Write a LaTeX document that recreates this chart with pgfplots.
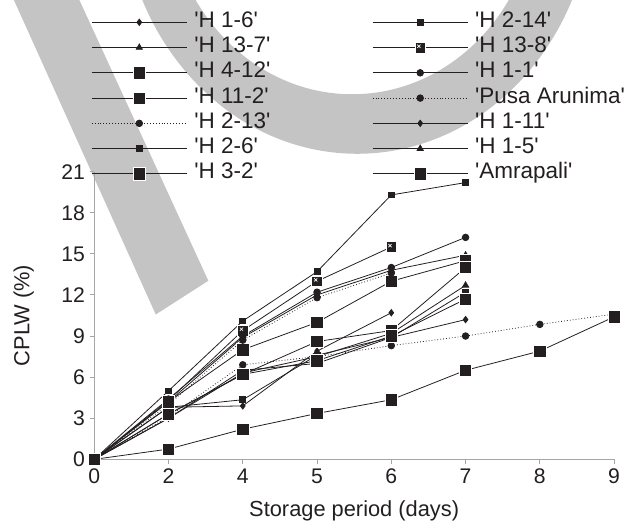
\documentclass[border=0pt]{standalone}
\usepackage{fontspec}
\setmainfont{Liberation Sans}[Ligatures=TeXOff]
\usepackage{pgfplots}
\pgfplotsset{compat=1.18}

\definecolor{band}{HTML}{C4C4C4}
\definecolor{ink}{HTML}{231F20}
\definecolor{axgray}{HTML}{A6A6A6}

% black square with a small white cross
\pgfdeclareplotmark{sqx}{%
  \pgfpathrectangle{\pgfpoint{-\pgfplotmarksize}{-\pgfplotmarksize}}{\pgfpoint{2\pgfplotmarksize}{2\pgfplotmarksize}}%
  \pgfusepathqfillstroke
  \pgfsetstrokecolor{white}%
  \pgfsetlinewidth{0.5pt}%
  \pgfpathmoveto{\pgfpoint{-0.55\pgfplotmarksize}{-0.05\pgfplotmarksize}}%
  \pgfpathlineto{\pgfpoint{0.05\pgfplotmarksize}{0.55\pgfplotmarksize}}%
  \pgfpathmoveto{\pgfpoint{-0.55\pgfplotmarksize}{0.55\pgfplotmarksize}}%
  \pgfpathlineto{\pgfpoint{0.05\pgfplotmarksize}{-0.05\pgfplotmarksize}}%
  \pgfusepathqstroke
}

\pgfplotsset{
  ser/.style={ink, line width=0.6pt},
  dots/.style={dash pattern=on 0.6pt off 1.6pt},
  bigsq/.style={mark=square*, mark size=4.7pt, mark options={solid, fill=ink, draw=white, line width=0.5pt}},
  xsq/.style={mark=sqx, mark size=4pt, mark options={solid, fill=ink, draw=white, line width=0.5pt}},
  smsq/.style={mark=square*, mark size=2.2pt, mark options={solid, fill=ink, draw=ink}},
  circ/.style={mark=*, mark size=2.5pt, mark options={solid, fill=ink, draw=ink}},
  tri/.style={mark=triangle*, mark size=2.7pt, mark options={solid, fill=ink, draw=ink}},
  dia/.style={mark=diamond*, mark size=2.4pt, mark options={solid, fill=ink, draw=ink}},
}

\begin{document}
\begin{tikzpicture}
\begin{scope}[x=0.75pt,y=-0.75pt]
  \useasboundingbox (0,0) rectangle (625,529);
  \begin{scope}
    \clip (0,0) rectangle (625,529);
    \fill[band] (14,0) -- (80,0) -- (210,283) -- (157,317) -- cycle;
    \fill[band,even odd rule] (360,-110) ellipse [x radius=238, y radius=265]
                              (355,-110) ellipse [x radius=187, y radius=205];
  \end{scope}
\end{scope}
\begin{axis}[
  at={(71.25pt,-347.25pt)}, anchor=south west,
  scale only axis, width=393pt, height=217.5pt,
  xmin=0, xmax=7, ymin=0, ymax=21,
  clip=false,
  axis lines=left,
  axis line style={axgray, line width=1pt, -},
  tick style={axgray, line width=0.8pt},
  tick align=outside,
  major tick length=3.5pt,
  xtick={0,...,7},
  xticklabels={0,2,4,5,6,7,8,9},
  ytick={0,3,...,21},
  /pgf/number format/assume math mode=true,
  tick label style={font=\fontsize{16}{19}\selectfont, text=ink},
  xlabel={Storage period (days)},
  ylabel={CPLW (\%)},
  label style={font=\fontsize{16.5}{19}\selectfont, text=ink},
  xlabel style={at={(axis description cs:0.5,-0.197)}, anchor=base},
  ylabel style={at={(axis description cs:-0.125,0.5)}, anchor=base},
  legend columns=2,
  legend cell align=left,
  legend image code/.code={\draw[mark repeat=2,mark phase=2,#1] plot coordinates {(0pt,0pt) (36pt,0pt) (72pt,0pt)};},
  legend style={
    at={(axis description cs:-0.0057,1.5524)}, anchor=north west,
    draw=none, fill=none, inner sep=0pt, outer sep=0pt,
    font=\fontsize{17}{20}\selectfont, text=ink,
    row sep=4.6pt,
    nodes={inner sep=0pt, text height=11pt, text depth=3.5pt},
    /tikz/every odd column/.append style={column sep=5.25pt},
    /tikz/every even column/.append style={column sep=77pt},
  },
]
\addplot[ser, dia] coordinates {(0,0) (1,3.8) (2,3.9) (3,7.9) (4,10.7)};
\addlegendentry{'H 1-6'}
\addplot[ser, smsq] coordinates {(0,0) (1,5.0) (2,10.1) (3,13.7) (4,19.3) (5,20.2)};
\addlegendentry{'H 2-14'}
\addplot[ser, tri] coordinates {(0,0) (1,4.2) (2,8.9) (3,12.0) (4,13.8) (5,14.9)};
\addlegendentry{'H 13-7'}
\addplot[ser, xsq] coordinates {(0,0) (1,4.3) (2,9.4) (3,13.0) (4,15.5)};
\addlegendentry{'H 13-8'}
\addplot[ser, bigsq] coordinates {(0,0) (1,4.2) (2,8.0) (3,10.0) (4,13.0) (5,14.5)};
\addlegendentry{'H 4-12'}
\addplot[ser, circ] coordinates {(0,0) (1,4.4) (2,9.0) (3,12.2) (4,14.0) (5,16.2)};
\addlegendentry{'H 1-1'}
\addplot[ser, bigsq] coordinates {(0,0) (1,3.3) (2,6.2) (3,8.6) (4,9.4) (5,14.0)};
\addlegendentry{'H 11-2'}
\addplot[ser, dots, circ] coordinates {(0,0) (1,3.1) (2,6.9) (3,7.5) (4,8.3) (5,9.0) (6,9.85) (7,10.6)};
\addlegendentry{'Pusa Arunima'}
\addplot[ser, dots, circ] coordinates {(0,0) (1,4.0) (2,8.7) (3,11.8) (4,13.6)};
\addlegendentry{'H 2-13'}
\addplot[ser, dia] coordinates {(0,0) (1,3.0) (2,6.5) (3,7.0) (4,8.9) (5,10.2)};
\addlegendentry{'H 1-11'}
\addplot[ser, smsq] coordinates {(0,0) (1,3.8) (2,4.35) (3,7.6) (4,8.9) (5,12.2)};
\addlegendentry{'H 2-6'}
\addplot[ser, tri] coordinates {(0,0) (1,3.0) (2,6.3) (3,7.5) (4,9.2) (5,12.7)};
\addlegendentry{'H 1-5'}
\addplot[ser, bigsq] coordinates {(0,0) (1,3.3) (2,6.2) (3,7.2) (4,9.0) (5,11.7)};
\addlegendentry{'H 3-2'}
\addplot[ser, bigsq] coordinates {(0,0) (1,0.75) (2,2.2) (3,3.35) (4,4.35) (5,6.5) (6,7.9) (7,10.4)};
\addlegendentry{'Amrapali'}
\end{axis}
\end{tikzpicture}
\end{document}
